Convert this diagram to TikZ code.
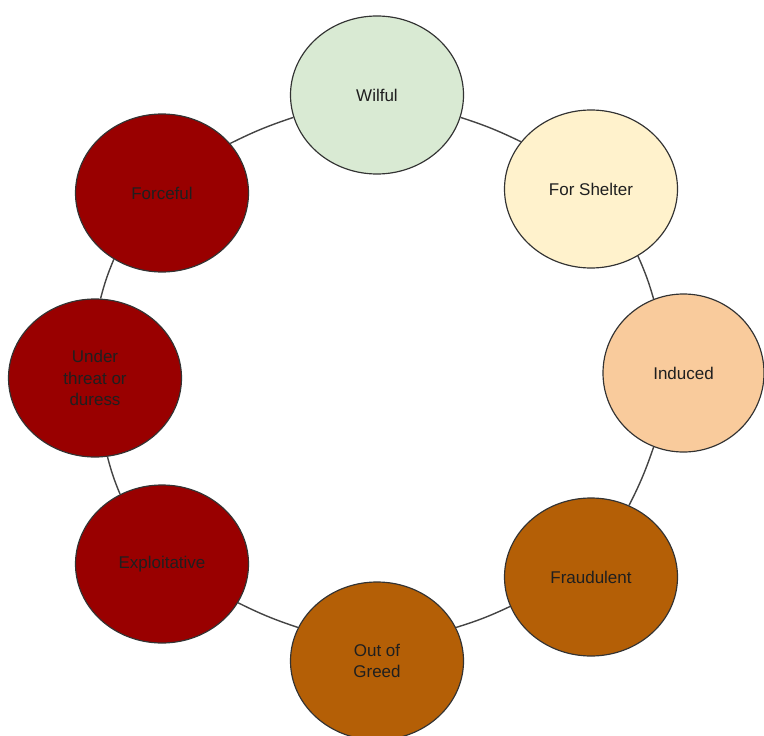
\documentclass[tikz,border=0pt]{standalone}
\usepackage{fontspec}
\setmainfont{Liberation Sans}
\usetikzlibrary{shapes.geometric}

\definecolor{wilfulgreen}{HTML}{D9EAD3}
\definecolor{shelteryellow}{HTML}{FFF2CC}
\definecolor{inducedorange}{HTML}{F9CB9C}
\definecolor{greedbrown}{HTML}{B45F06}
\definecolor{forcered}{HTML}{990000}
\definecolor{ringgray}{HTML}{444444}
\definecolor{edgegray}{HTML}{333333}

\begin{document}
\begin{tikzpicture}[x=0.03cm,y=-0.03cm,
	bubble/.style={draw=edgegray,line width=1pt,shape=ellipse,inner sep=0pt,
		minimum width=5.19cm,minimum height=4.74cm,align=center,
		font=\fontsize{14.5}{18.5}\selectfont,text=black!88},
	ring/.style={draw=ringgray,line width=1.2pt}]
	\useasboundingbox (0,0) rectangle (764,736);
	\draw (377,95) node(wilful) [bubble,fill=wilfulgreen] {Wilful};
	\draw (591,189) node(shelter) [bubble,fill=shelteryellow] {For Shelter};
	\draw (683.5,373) node(induced) [bubble,fill=inducedorange,minimum width=4.83cm] {Induced};
	\draw (591,577) node(fraud) [bubble,fill=greedbrown] {Fraudulent};
	\draw (377,661) node(greed) [bubble,fill=greedbrown] {Out of\\Greed};
	\draw (162,564) node(exploit) [bubble,fill=forcered] {Exploitative};
	\draw (95,378) node(threat) [bubble,fill=forcered] {Under\\threat or\\duress};
	\draw (162,193) node(force) [bubble,fill=forcered] {Forceful};
	\draw[ring] (wilful.-15) to [bend left=4] (shelter.146);
	\draw[ring] (shelter.-55) to [bend left=4] (induced.112);
	\draw[ring] (induced.248) to [bend left=4] (fraud.62);
	\draw[ring] (fraud.200) to [bend left=4] (greed.23);
	\draw[ring] (greed.157) to [bend left=4] (exploit.-27);
	\draw[ring] (exploit.121) to [bend left=4] (threat.-81);
	\draw[ring] (threat.86) to [bend left=4] (force.234);
	\draw[ring] (force.36) to [bend left=4] (wilful.195);
\end{tikzpicture}
\end{document}
